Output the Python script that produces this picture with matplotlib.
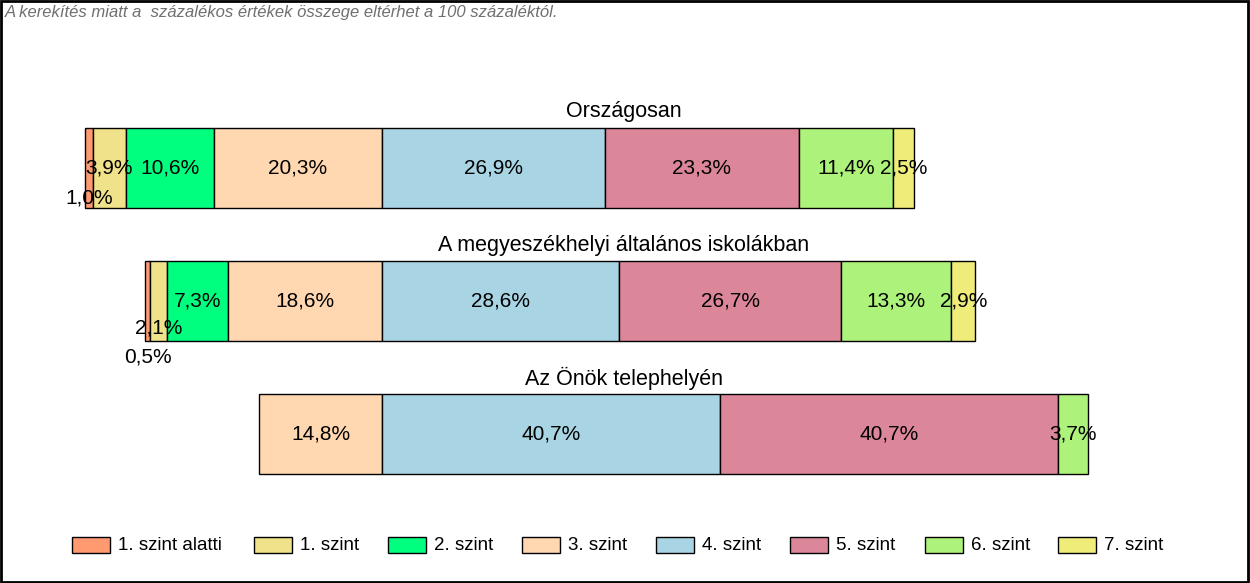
import matplotlib.pyplot as plt
from matplotlib.patches import Rectangle
import numpy as np

plt.rcParams['font.family'] = ['Liberation Sans', 'DejaVu Sans']

groups = ["Országosan", "A megyeszékhelyi általános iskolákban", "Az Önök telephelyén"]
levels = ["1. szint alatti", "1. szint", "2. szint", "3. szint",
          "4. szint", "5. szint", "6. szint", "7. szint"]
colors = ["#FF9A70", "#F0E28A", "#00FF7F", "#FFD7B0",
          "#A9D4E3", "#DB8799", "#ADF27A", "#F0EC7A"]

# percentages per group, levels in order
orszagos = [1.0, 3.9, 10.6, 20.3, 26.9, 23.3, 11.4, 2.5]
megye = [0.5, 2.1, 7.3, 18.6, 28.6, 26.7, 13.3, 2.9]
telephely = [0.0, 0.0, 0.0, 14.8, 40.7, 40.7, 3.7, 0.0]
data = np.array([orszagos, megye, telephely])

# small label nudges (pixels, down) for the tiny left segments
label_dy = {(0, 0): 30, (1, 0): 56, (1, 1): 27}

fig = plt.figure(figsize=(12.5, 5.83), dpi=100)
ax = fig.add_axes([0, 0, 1, 1])
scale = 8.3
zero = 382
ax.set_xlim(-zero / scale, (1250 - zero) / scale)
ax.set_ylim(583, 0)
ax.axis("off")

centers = [168, 301, 434]
for g in range(len(groups)):
    vals = data[g]
    left = -vals[:4].sum()
    for i, v in enumerate(vals):
        if v > 0:
            ax.barh(centers[g], v, left=left, height=80, color=colors[i],
                    edgecolor="black", linewidth=1)
            dy = label_dy.get((g, i), 0)
            ax.text(left + v / 2, centers[g] + dy, f"{v:.1f}%".replace(".", ","),
                    ha="center", va="center", fontsize=15)
        left += v
    ax.text(624 / scale - zero / scale, centers[g] - 56, groups[g],
            ha="center", va="center", fontsize=15.5)

# legend, laid out by hand like the original
leg_x = [72, 254, 388, 522, 656, 790, 925, 1058]
W, H = 1250, 583
for x, c, lab in zip(leg_x, colors, levels):
    fig.add_artist(Rectangle((x / W, 1 - 553 / H), 38 / W, 16 / H,
                             transform=fig.transFigure, facecolor=c,
                             edgecolor="black", linewidth=1))
    fig.text((x + 46) / W, 1 - 545 / H, lab, ha="left", va="center", fontsize=13.5)

fig.text(5 / W, 1 - 13 / H,
         "A kerekítés miatt a  százalékos értékek összege eltérhet a 100 százaléktól.",
         ha="left", va="center", fontsize=12, style="italic", color="#707070")

fig.add_artist(Rectangle((0.0005, 0.001), 0.998, 0.997, transform=fig.transFigure,
                         fill=False, edgecolor="black", linewidth=2))

fig.savefig("out.png", dpi=100)
